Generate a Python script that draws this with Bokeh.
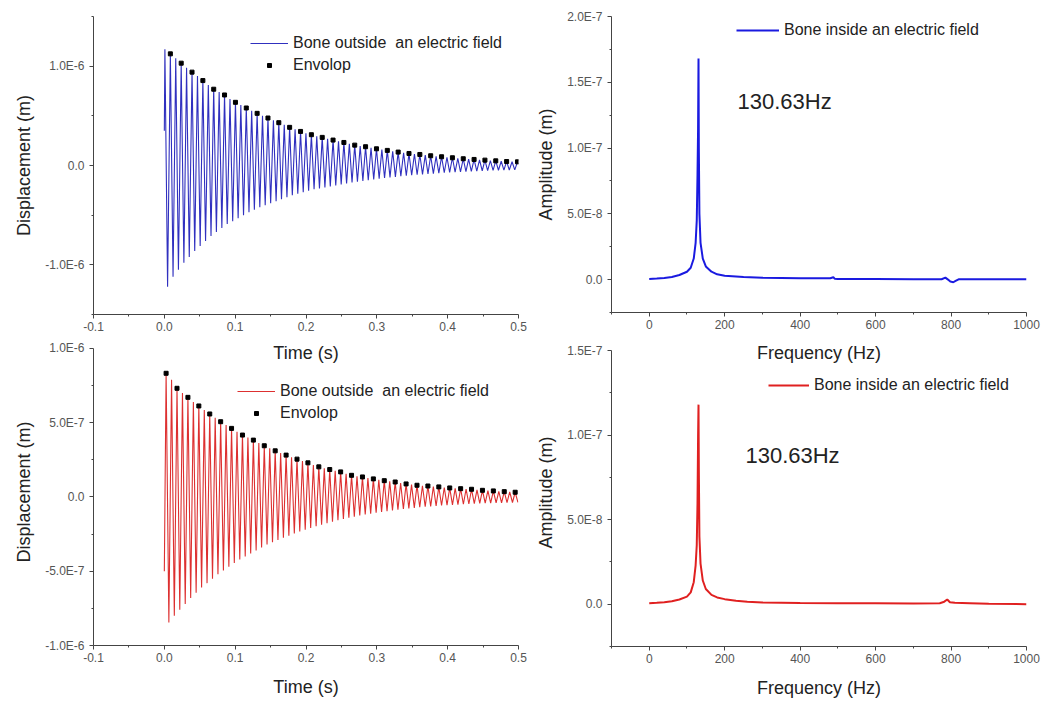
from bokeh.plotting import figure
from bokeh.models import (Range1d, FixedTicker, CustomJSTickFormatter, Legend,
                          LegendItem, Label)
from bokeh.layouts import column, row
from bokeh.embed import file_html
from bokeh.resources import INLINE

# ------------------------------------------------------------------ data
# Top-left: time response (blue), peaks / troughs of the zig-zag, in ms and 1e-6 m
start_a = (0.0, 0.35)
time_peak_ms_a = [0.8, 8.5, 16.1, 23.8, 31.4, 39.1, 46.8, 54.4, 62.1, 69.7,
                  77.4, 85.0, 92.7, 100.4, 108.0, 115.7, 123.3, 131.0, 138.6, 146.3,
                  154.0, 161.6, 169.3, 176.9, 184.6, 192.3, 199.9, 207.6, 215.2, 222.9,
                  230.5, 238.2, 245.9, 253.5, 261.2, 268.8, 276.5, 284.1, 291.8, 299.5,
                  307.1, 314.8, 322.4, 330.1, 337.8, 345.4, 353.1, 360.7, 368.4, 376.0,
                  383.7, 391.4, 399.0, 406.7, 414.3, 422.0, 429.6, 437.3, 445.0, 452.6,
                  460.3, 467.9, 475.6, 483.2, 490.9, 498.6]
disp_peak_a = [1.17, 1.124, 1.08, 1.03, 0.985, 0.94, 0.90, 0.855, 0.81, 0.768,
               0.74, 0.71, 0.67, 0.636, 0.61, 0.579, 0.55, 0.525, 0.50, 0.478,
               0.455, 0.431, 0.41, 0.384, 0.365, 0.343, 0.325, 0.31, 0.295, 0.283,
               0.27, 0.256, 0.245, 0.232, 0.218, 0.205, 0.197, 0.189, 0.178, 0.168,
               0.16, 0.152, 0.143, 0.135, 0.128, 0.121, 0.116, 0.111, 0.104, 0.098,
               0.093, 0.088, 0.083, 0.078, 0.073, 0.068, 0.065, 0.061, 0.057, 0.054,
               0.05, 0.047, 0.043, 0.040, 0.038, 0.037]
time_trough_ms_a = [4.6, 12.3, 19.9, 27.6, 35.2, 42.9, 50.6, 58.2, 65.9, 73.5,
                    81.2, 88.8, 96.5, 104.2, 111.8, 119.5, 127.1, 134.8, 142.4, 150.1,
                    157.8, 165.4, 173.1, 180.7, 188.4, 196.1, 203.7, 211.4, 219.0, 226.7,
                    234.3, 242.0, 249.7, 257.3, 265.0, 272.6, 280.3, 287.9, 295.6, 303.3,
                    310.9, 318.6, 326.2, 333.9, 341.6, 349.2, 356.9, 364.5, 372.2, 379.8,
                    387.5, 395.2, 402.8, 410.5, 418.1, 425.8, 433.4, 441.1, 448.8, 456.4,
                    464.1, 471.7, 479.4, 487.0, 494.7]
disp_trough_a = [-1.22, -1.12, -1.05, -0.98, -0.92, -0.86, -0.81, -0.76, -0.71, -0.67,
                 -0.63, -0.59, -0.56, -0.53, -0.50, -0.47, -0.445, -0.42, -0.40, -0.38,
                 -0.36, -0.34, -0.32, -0.30, -0.285, -0.27, -0.255, -0.24, -0.23, -0.22,
                 -0.21, -0.20, -0.19, -0.18, -0.172, -0.164, -0.156, -0.148, -0.14, -0.133,
                 -0.126, -0.12, -0.114, -0.108, -0.103, -0.098, -0.093, -0.089, -0.085, -0.081,
                 -0.077, -0.073, -0.07, -0.067, -0.064, -0.061, -0.058, -0.056, -0.054, -0.052,
                 -0.05, -0.048, -0.046, -0.045, -0.044]
env_time_ms_a = [8.5, 23.8, 39.1, 54.4, 69.7, 85.0, 100.4, 115.7, 131.0, 146.3,
                 161.6, 176.9, 192.3, 207.6, 222.9, 238.2, 253.5, 268.8, 284.1, 299.5,
                 314.8, 330.1, 345.4, 360.7, 376.0, 391.4, 406.7, 422.0, 437.3, 452.6,
                 467.9, 483.2, 498.6]
env_disp_a = [1.124, 1.03, 0.94, 0.855, 0.768, 0.71, 0.636, 0.579, 0.525, 0.478,
              0.431, 0.384, 0.343, 0.31, 0.283, 0.256, 0.232, 0.205, 0.189, 0.168,
              0.152, 0.135, 0.121, 0.111, 0.098, 0.088, 0.078, 0.068, 0.061, 0.054,
              0.047, 0.040, 0.037]

# Bottom-left: time response (red)
start_b = (0.0, -0.5)
time_peak_ms_b = [2.5, 10.2, 17.9, 25.6, 33.3, 41.0, 48.7, 56.4, 64.1, 71.8,
                  79.5, 87.2, 94.9, 102.6, 110.3, 118.0, 125.7, 133.4, 141.1, 148.8,
                  156.5, 164.2, 171.9, 179.6, 187.3, 195.0, 202.7, 210.4, 218.1, 225.8,
                  233.5, 241.2, 248.9, 256.6, 264.3, 272.0, 279.7, 287.4, 295.1, 302.8,
                  310.5, 318.2, 325.9, 333.6, 341.3, 349.0, 356.7, 364.4, 372.1, 379.8,
                  387.5, 395.2, 402.9, 410.6, 418.3, 426.0, 433.7, 441.4, 449.1, 456.8,
                  464.5, 472.2, 479.9, 487.6, 495.3]
disp_peak_b = [0.833, 0.79, 0.732, 0.70, 0.671, 0.64, 0.613, 0.585, 0.559, 0.533,
               0.507, 0.485, 0.462, 0.44, 0.417, 0.40, 0.383, 0.364, 0.345, 0.328,
               0.311, 0.296, 0.282, 0.268, 0.255, 0.242, 0.23, 0.216, 0.203, 0.194,
               0.185, 0.177, 0.169, 0.157, 0.146, 0.14, 0.135, 0.128, 0.122, 0.116,
               0.11, 0.105, 0.101, 0.094, 0.088, 0.083, 0.079, 0.076, 0.074, 0.071,
               0.068, 0.064, 0.061, 0.058, 0.056, 0.054, 0.052, 0.048, 0.045, 0.043,
               0.041, 0.038, 0.036, 0.034, 0.032]
time_trough_ms_b = [6.4, 14.1, 21.8, 29.5, 37.2, 44.9, 52.6, 60.3, 68.0, 75.7,
                    83.4, 91.1, 98.8, 106.5, 114.2, 121.9, 129.6, 137.3, 145.0, 152.7,
                    160.4, 168.1, 175.8, 183.5, 191.2, 198.9, 206.6, 214.3, 222.0, 229.7,
                    237.4, 245.1, 252.8, 260.5, 268.2, 275.9, 283.6, 291.3, 299.0, 306.7,
                    314.4, 322.1, 329.8, 337.5, 345.2, 352.9, 360.6, 368.3, 376.0, 383.7,
                    391.4, 399.1, 406.8, 414.5, 422.2, 429.9, 437.6, 445.3, 453.0, 460.7,
                    468.4, 476.1, 483.8, 491.5, 499.2]
disp_trough_b = [-0.845, -0.80, -0.76, -0.72, -0.68, -0.645, -0.61, -0.58, -0.55, -0.52,
                 -0.495, -0.47, -0.445, -0.42, -0.40, -0.38, -0.36, -0.34, -0.32, -0.305,
                 -0.29, -0.275, -0.26, -0.245, -0.232, -0.22, -0.208, -0.197, -0.186, -0.176,
                 -0.166, -0.157, -0.148, -0.14, -0.132, -0.125, -0.118, -0.112, -0.106, -0.1,
                 -0.095, -0.09, -0.085, -0.081, -0.077, -0.073, -0.069, -0.066, -0.063, -0.06,
                 -0.057, -0.055, -0.053, -0.051, -0.049, -0.047, -0.045, -0.043, -0.042, -0.041,
                 -0.04, -0.039, -0.038, -0.037, -0.036]
env_time_ms_b = [2.5, 17.9, 33.3, 48.7, 64.1, 79.5, 94.9, 110.3, 125.7, 141.1,
                 156.5, 171.9, 187.3, 202.7, 218.1, 233.5, 248.9, 264.3, 279.7, 295.1,
                 310.5, 325.9, 341.3, 356.7, 372.1, 387.5, 402.9, 418.3, 433.7, 449.1,
                 464.5, 479.9, 495.3]
env_disp_b = [0.833, 0.732, 0.671, 0.613, 0.559, 0.507, 0.462, 0.417, 0.383, 0.345,
              0.311, 0.282, 0.255, 0.23, 0.203, 0.185, 0.169, 0.146, 0.135, 0.122,
              0.11, 0.101, 0.088, 0.079, 0.074, 0.068, 0.061, 0.056, 0.052, 0.045,
              0.041, 0.036, 0.032]

# Spectra (Hz, amplitude in 1e-8 m)
freq_a = [0, 20, 40, 60, 80, 100, 110, 118, 123, 126, 128, 129.5, 130.63, 131.5, 133,
          136, 142, 150, 165, 180, 200, 250, 300, 400, 480, 488, 492, 500, 600, 700,
          775, 785, 792, 798, 806, 812, 820, 900, 1000]
amp_a = [0.05, 0.08, 0.12, 0.2, 0.35, 0.6, 0.9, 1.6, 2.8, 4.5, 8.0, 11.5, 16.8, 10.0, 5.0,
         2.8, 1.6, 1.0, 0.6, 0.4, 0.3, 0.2, 0.15, 0.1, 0.1, 0.18, 0.06, 0.05, 0.04, 0.03,
         0.03, 0.15, 0.0, -0.15, -0.2, -0.1, 0.02, 0.02, 0.02]
freq_b = [0, 20, 40, 60, 80, 100, 110, 118, 123, 126, 128, 129.5, 130.63, 131.5, 133,
          136, 142, 150, 165, 180, 200, 230, 260, 300, 400, 500, 600, 700, 770, 782,
          790, 797, 810, 850, 900, 1000]
amp_b = [0.05, 0.08, 0.12, 0.18, 0.28, 0.45, 0.7, 1.3, 2.3, 3.5, 6.0, 9.9, 11.8, 8.0, 4.0,
         2.4, 1.4, 0.9, 0.55, 0.4, 0.3, 0.2, 0.15, 0.1, 0.07, 0.06, 0.05, 0.04, 0.06, 0.15,
         0.28, 0.12, 0.08, 0.06, 0.03, 0.0]

peak_label = "130.63Hz"
legend_time = "Bone outside  an electric field"
legend_env = "Envolop"
legend_freq = "Bone inside an electric field"

# ------------------------------------------------------------------ helpers
FONT = "Liberation Sans"

YFMT = CustomJSTickFormatter(code="""
if (Math.abs(tick) < 1e-15) return "0.0";
const e = Math.floor(Math.log10(Math.abs(tick)) + 1e-9);
const m = tick / Math.pow(10, e);
return m.toFixed(1) + "E" + e;
""")


def zigzag(start, tp, vp, tt, vt):
    pts = [start] + list(zip(tp, vp)) + list(zip(tt, vt))
    pts.sort(key=lambda q: q[0])
    return [q[0] / 1000.0 for q in pts], [q[1] * 1e-6 for q in pts]


def make_fig(xr, yr, xt, xmin, yt, ymin, xdec, fw, fh, mbl, mbr, mbt, mbb,
             xlabel, ylabel):
    p = figure(output_backend="svg", toolbar_location=None,
               frame_width=fw, frame_height=fh,
               x_range=Range1d(*xr), y_range=Range1d(*yr),
               min_border_left=mbl, min_border_right=mbr,
               min_border_top=mbt, min_border_bottom=mbb)
    p.outline_line_color = None
    p.grid.visible = False
    p.background_fill_color = "white"
    p.border_fill_color = "white"
    p.xaxis.ticker = FixedTicker(ticks=xt, minor_ticks=xmin)
    p.yaxis.ticker = FixedTicker(ticks=yt, minor_ticks=ymin)
    p.xaxis.formatter = CustomJSTickFormatter(code="return tick.toFixed(%d);" % xdec)
    p.yaxis.formatter = YFMT
    for ax in (p.xaxis[0], p.yaxis[0]):
        ax.axis_line_color = "#444444"
        ax.major_tick_line_color = "#444444"
        ax.minor_tick_line_color = "#444444"
        ax.major_tick_out = 4
        ax.major_tick_in = 0
        ax.minor_tick_out = 2
        ax.minor_tick_in = 0
        ax.major_label_text_font = FONT
        ax.major_label_text_font_size = "12px"
        ax.major_label_text_color = "#555555"
        ax.axis_label_text_font = FONT
        ax.axis_label_text_font_size = "18px"
        ax.axis_label_text_font_style = "normal"
        ax.axis_label_text_color = "#222222"
    p.xaxis.axis_label = xlabel
    p.yaxis.axis_label = ylabel
    p.yaxis.axis_label_standoff = 8
    p.xaxis.axis_label_standoff = 12
    p.xaxis.major_label_standoff = 3
    return p


def add_legend(p, items, x, y, gw):
    lg = Legend(items=items, location=(x, y))
    lg.background_fill_alpha = 0
    lg.border_line_color = None
    lg.padding = 0
    lg.margin = 0
    lg.spacing = 0
    lg.glyph_width = gw
    lg.glyph_height = 10
    lg.label_height = 22
    lg.label_standoff = 5
    lg.label_text_font = FONT
    lg.label_text_font_size = "16px"
    lg.label_text_color = "#222222"
    p.add_layout(lg)


def add_text(p, x, y, txt, size, align="left"):
    p.add_layout(Label(x=x, y=y, text=txt, text_font=FONT, text_font_size=size,
                       text_color="#222222", text_align=align,
                       text_baseline="middle"))


x_ticks_t = [-0.1, 0.0, 0.1, 0.2, 0.3, 0.4, 0.5]
x_minor_t = [-0.05, 0.05, 0.15, 0.25, 0.35, 0.45]
x_ticks_f = [0, 200, 400, 600, 800, 1000]
x_minor_f = [-100, 100, 300, 500, 700, 900]

# ------------------------------------------------------------------ top-left
p1 = make_fig((-0.1, 0.5), (-1.5e-6, 1.5e-6), x_ticks_t, x_minor_t,
              [-1e-6, 0.0, 1e-6], [-1.5e-6, -0.5e-6, 0.5e-6, 1.5e-6], 1,
              425, 298, 93, 15, 14, 24, None, "Displacement (m)")
tx, ty = zigzag(start_a, time_peak_ms_a, disp_peak_a, time_trough_ms_a, disp_trough_a)
r1 = p1.line(tx, ty, line_color="#3030bf", line_width=1.1)
e1 = p1.scatter([t / 1000.0 for t in env_time_ms_a], [v * 1e-6 for v in env_disp_a],
                marker="square", size=4, color="black")
add_legend(p1, [LegendItem(label=legend_time, renderers=[r1]),
                LegendItem(label=legend_env, renderers=[e1])], 157, 238, 38)

# ------------------------------------------------------------------ top-right
p2 = make_fig((-100, 1000), (-2.5e-8, 2.0e-7), x_ticks_f, x_minor_f,
              [0.0, 5e-8, 1e-7, 1.5e-7, 2e-7], [-2.5e-8, 2.5e-8, 7.5e-8, 1.25e-7, 1.75e-7], 0,
              415, 296, 77, 20, 16, 24, None, "Amplitude (m)")
r2 = p2.line(freq_a, [a * 1e-8 for a in amp_a], line_color="#1a1ae0", line_width=2)
add_legend(p2, [LegendItem(label=legend_freq, renderers=[r2])], 125, 271, 43)
add_text(p2, 234, 1.354e-7, peak_label, "22px")

# ------------------------------------------------------------------ bottom-left
p3 = make_fig((-0.1, 0.5), (-1.0e-6, 1.0673e-6), x_ticks_t, x_minor_t,
              [-1e-6, -5e-7, 0.0, 5e-7, 1e-6], [-7.5e-7, -2.5e-7, 2.5e-7, 7.5e-7], 1,
              425, 307, 93, 15, 2, 61, "Time (s)", "Displacement (m)")
p3.yaxis.bounds = (-1.0e-6, 1.0e-6)
bx, by = zigzag(start_b, time_peak_ms_b, disp_peak_b, time_trough_ms_b, disp_trough_b)
r3 = p3.line(bx, by, line_color="#dd3030", line_width=1.1)
e3 = p3.scatter([t / 1000.0 for t in env_time_ms_b], [v * 1e-6 for v in env_disp_b],
                marker="square", size=4, color="black")
add_legend(p3, [LegendItem(label=legend_time, renderers=[r3]),
                LegendItem(label=legend_env, renderers=[e3])], 144, 221, 38)
# x-axis title of the panel above (sits in the gap between rows)
add_text(p3, 0.2, 0.973e-6, "Time (s)", "18px", "center")

# ------------------------------------------------------------------ bottom-right
p4 = make_fig((-100, 1000), (-2.5e-8, 1.571e-7), x_ticks_f, x_minor_f,
              [0.0, 5e-8, 1e-7, 1.5e-7], [-2.5e-8, 2.5e-8, 7.5e-8, 1.25e-7], 0,
              415, 308, 77, 20, 2, 60, "Frequency (Hz)", "Amplitude (m)")
p4.yaxis.bounds = (-2.5e-8, 1.5e-7)
r4 = p4.line(freq_b, [a * 1e-8 for a in amp_b], line_color="#e02020", line_width=2)
add_legend(p4, [LegendItem(label=legend_freq, renderers=[r4])], 157, 250, 41)
add_text(p4, 255, 8.8e-8, peak_label, "22px")
add_text(p4, 450, 1.488e-7, "Frequency (Hz)", "18px", "center")

layout = column(row(p1, p2), row(p3, p4))
open("out.html", "w").write(file_html(layout, INLINE))
